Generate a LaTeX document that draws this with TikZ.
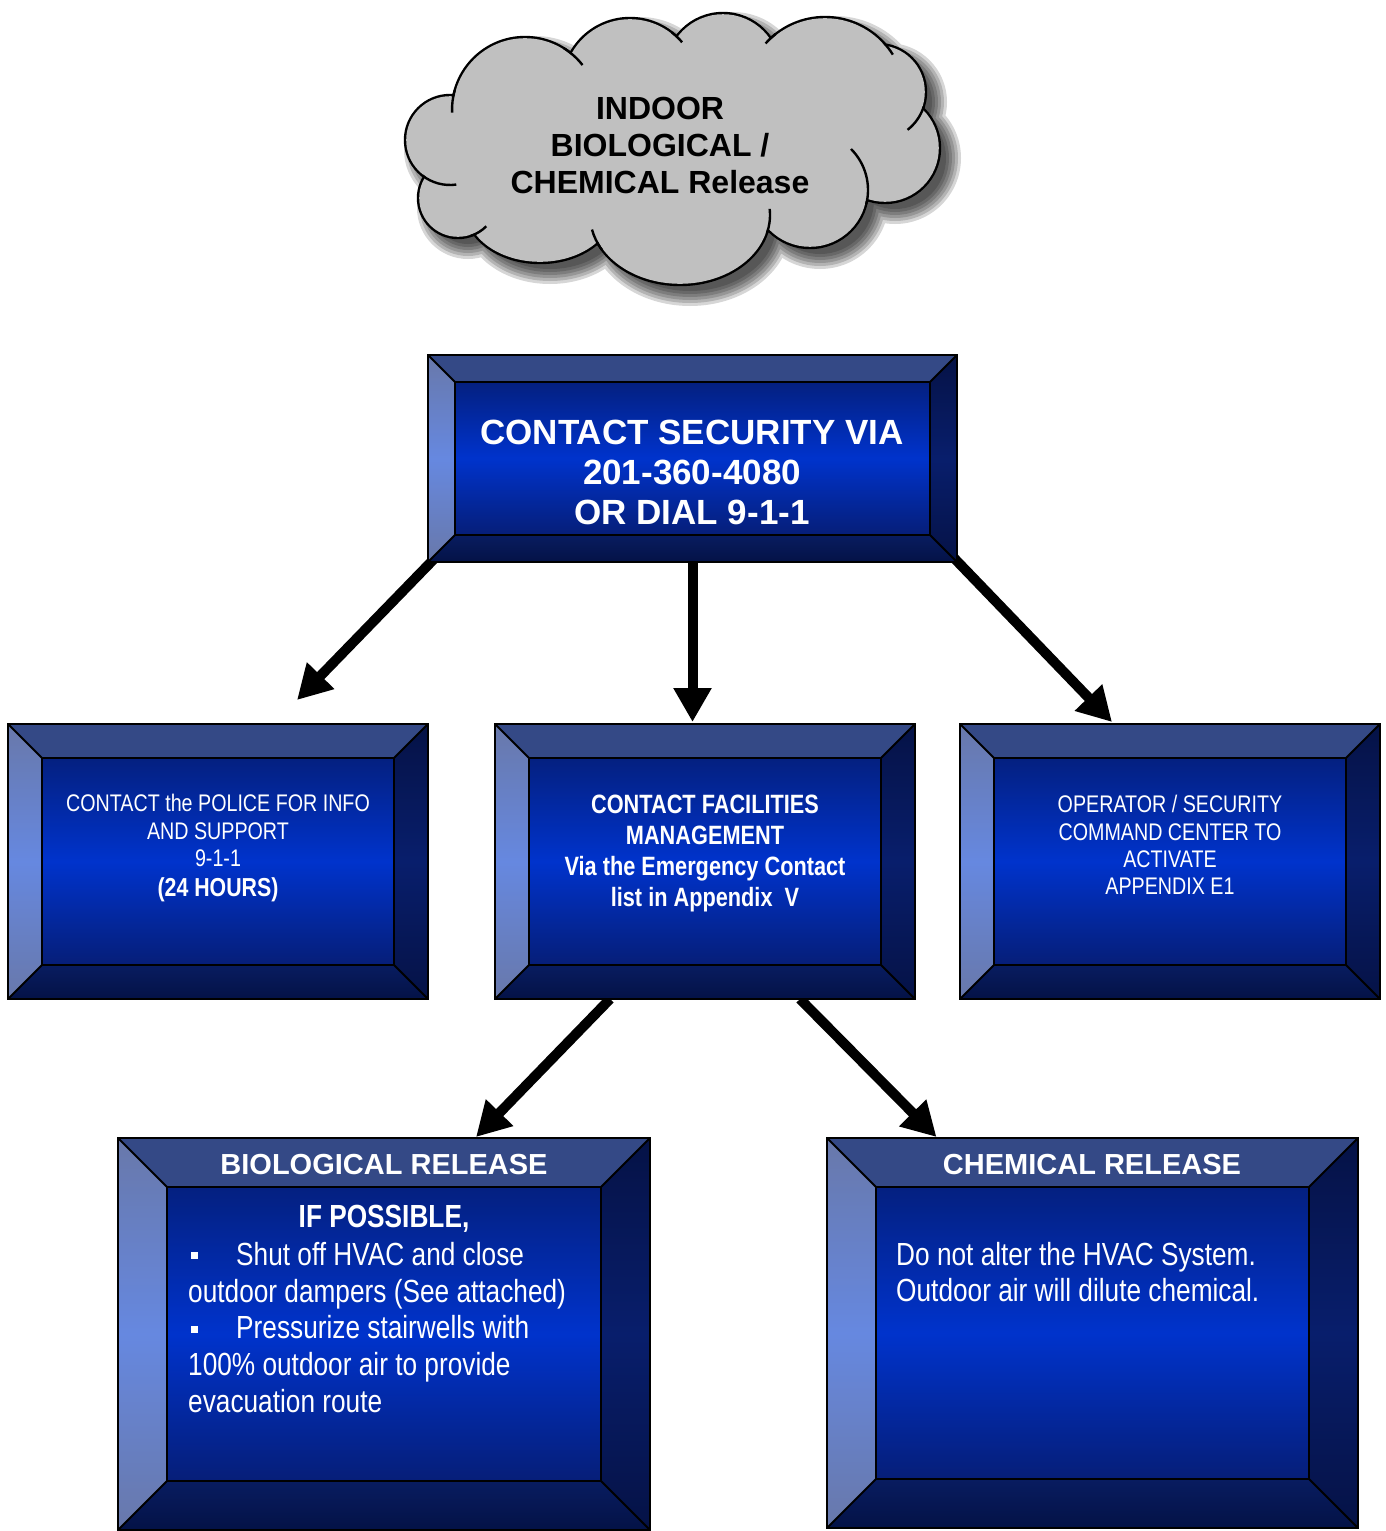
\documentclass[tikz,border=0pt]{standalone}
\usepackage{fontspec}
\setmainfont{Liberation Sans}
\newfontfamily\narrowfont[FakeStretch=0.82]{Liberation Sans}
\usetikzlibrary{arrows.meta,calc}

\definecolor{bevtop}{RGB}{52,73,134}
\definecolor{bevleftA}{RGB}{104,120,170}
\definecolor{bevleftB}{RGB}{102,136,224}
\definecolor{bevrightA}{RGB}{5,18,70}
\definecolor{bevrightB}{RGB}{8,30,108}
\definecolor{bevbotA}{RGB}{8,28,96}
\definecolor{bevbotB}{RGB}{4,18,70}
\definecolor{faceA}{RGB}{4,32,128}
\definecolor{faceB}{RGB}{0,51,204}
\definecolor{faceC}{RGB}{6,30,120}
\definecolor{cloudgray}{RGB}{192,192,192}

% puffs of the cloud: centre x / centre y / x radius / y radius
\newcommand\puffs{525/110/73/73, 630/86/68/68, 723/71/58/58, 825/97/80/80,
  878/92/48/48, 885/148/55/55, 810/190/58/58, 680/215/90/70,
  540/208/75/55, 458/198/40/40, 450/140/45/45}

\tikzset{
  boxframe/.style={rectangle, inner sep=0pt, outer sep=0pt},
  frameline/.style={black, line width=2pt, line join=miter},
  bigarrow/.style={line width=10pt, -{Triangle[length=34pt,width=36pt]}},
  cloudhook/.style={black, line width=2.4pt},
  boxtext/.style={text=white, align=center, inner sep=0pt},
}

% bevelled frame drawn on top of an empty rectangular node
\newcommand\bevelize[2]{%
  \coordinate (#1-o1) at (#1.north west);
  \coordinate (#1-o2) at (#1.north east);
  \coordinate (#1-o3) at (#1.south east);
  \coordinate (#1-o4) at (#1.south west);
  \coordinate (#1-i1) at ($(#1.north west)+(#2,#2)$);
  \coordinate (#1-i2) at ($(#1.north east)+(-#2,#2)$);
  \coordinate (#1-i3) at ($(#1.south east)+(-#2,-#2)$);
  \coordinate (#1-i4) at ($(#1.south west)+(#2,-#2)$);
  \fill[bevtop] (#1-o1) -- (#1-o2) -- (#1-i2) -- (#1-i1) -- cycle;
  \shade[top color=bevleftA, bottom color=bevleftA, middle color=bevleftB]
    (#1-o1) -- (#1-i1) -- (#1-i4) -- (#1-o4) -- cycle;
  \shade[top color=bevrightA, bottom color=bevrightA, middle color=bevrightB]
    (#1-o2) -- (#1-o3) -- (#1-i3) -- (#1-i2) -- cycle;
  \shade[top color=bevbotA, bottom color=bevbotB]
    (#1-o4) -- (#1-i4) -- (#1-i3) -- (#1-o3) -- cycle;
  \shade[top color=faceA, bottom color=faceC, middle color=faceB]
    (#1-i1) rectangle (#1-i3);
  \draw[frameline] (#1-o1) rectangle (#1-o3);
  \draw[frameline] (#1-i1) rectangle (#1-i3);
  \draw[frameline] (#1-o1) -- (#1-i1) (#1-o2) -- (#1-i2)
    (#1-o3) -- (#1-i3) (#1-o4) -- (#1-i4);
}

\begin{document}
\begin{tikzpicture}[x=1pt,y=-1pt]
\useasboundingbox (0,0) rectangle (1385,1531);
\fill[white] (0,0) rectangle (1385,1531);

% ---------- cloud ----------
% soft drop shadow
\foreach \g in {11,8,5,2,-1,-4} {
  \fill[black, opacity=0.16] foreach \cx/\cy/\rx/\ry in \puffs
    {(\cx+10,\cy+10) ellipse[x radius=\rx+\g, y radius=\ry+\g]}
    (685,155) ellipse[x radius=215, y radius=90];
}
% outline and body
\fill[black] foreach \cx/\cy/\rx/\ry in \puffs
  {(\cx,\cy) ellipse[x radius=\rx+1.2, y radius=\ry+1.2]};
\fill[cloudgray] foreach \cx/\cy/\rx/\ry in \puffs
  {(\cx,\cy) ellipse[x radius=\rx-1.2, y radius=\ry-1.2]}
  (675,145) ellipse[x radius=215, y radius=90];
% inner puff hooks
\draw[cloudhook] (525,110) ++(-58:73) arc[start angle=-58, end angle=-38, radius=73];
\draw[cloudhook] (525,110) ++(196:73) arc[start angle=196, end angle=178, radius=73];
\draw[cloudhook] (630,86) ++(-52:68) arc[start angle=-52, end angle=-40, radius=68];
\draw[cloudhook] (825,97) ++(-128:80) arc[start angle=-128, end angle=-138, radius=80];
\draw[cloudhook] (825,97) ++(-43:80) arc[start angle=-43, end angle=-32, radius=80];
\draw[cloudhook] (878,92) ++(18:48) arc[start angle=18, end angle=52, radius=48];
\draw[cloudhook] (810,190) ++(14:58) arc[start angle=14, end angle=-45, radius=58];
\draw[cloudhook] (680,215) ++(15:90 and 70) arc[start angle=15, end angle=-5, x radius=90, y radius=70];
\draw[cloudhook] (680,215) ++(150:90 and 70) arc[start angle=150, end angle=168, x radius=90, y radius=70];
\draw[cloudhook] (458,198) ++(72:40) arc[start angle=72, end angle=45, radius=40];
\draw[cloudhook] (450,140) ++(128:45) arc[start angle=128, end angle=82, radius=45];

\node[font=\bfseries\fontsize{32}{37}\selectfont, align=center, inner sep=0pt]
  (cloudtxt) at (660,145) {INDOOR\\BIOLOGICAL /\\CHEMICAL Release};

% ---------- box frames ----------
\node[boxframe, minimum width=529pt, minimum height=207pt] (secu) at (692.5,458.5) {};
\node[boxframe, minimum width=420pt, minimum height=275pt] (police) at (218,861.5) {};
\node[boxframe, minimum width=420pt, minimum height=275pt] (fac) at (705,861.5) {};
\node[boxframe, minimum width=420pt, minimum height=275pt] (oper) at (1170,861.5) {};
\node[boxframe, minimum width=532pt, minimum height=392pt] (bio) at (384,1334) {};
\node[boxframe, minimum width=531pt, minimum height=390pt] (chem) at (1092.5,1333) {};

% ---------- arrows ----------
\draw[bigarrow] ($(secu.south west)+(7,-4)$) -- ($(police.north)+(79,-24)$);
\draw[bigarrow] (secu.south) -- ($(secu.south |- fac.north)+(0,-2)$);
\draw[bigarrow] ($(secu.south east)+(-3,-4)$) -- ($(oper.north)+(-58,-2)$);
\draw[bigarrow] ($(fac.south)+(-95,0)$) -- ($(bio.north)+(92,-1)$);
\draw[bigarrow] ($(fac.south)+(95,0)$) -- ($(chem.north)+(-156,-1)$);

% ---------- bevelled boxes ----------
\bevelize{secu}{27}
\bevelize{police}{34}
\bevelize{fac}{34}
\bevelize{oper}{34}
\bevelize{bio}{49}
\bevelize{chem}{49}

% ---------- texts ----------
\node[boxtext, font=\bfseries\fontsize{35}{40}\selectfont] (secutxt) at (692,472)
  {CONTACT SECURITY VIA\\201-360-4080\\OR DIAL 9-1-1};
\node[boxtext, font=\narrowfont\fontsize{24}{27.5}\selectfont] (policetxt) at (218,848)
  {CONTACT the POLICE FOR INFO\\AND SUPPORT\\9-1-1\\[2.5pt]{\bfseries\fontsize{26}{27.5}\selectfont (24 HOURS)}};
\node[boxtext, font=\narrowfont\bfseries\fontsize{26.5}{30.7}\selectfont] (factxt) at (705,853.5)
  {CONTACT FACILITIES\\MANAGEMENT\\Via the Emergency Contact\\list in Appendix\ \ V};
\node[boxtext, font=\narrowfont\fontsize{24}{27.3}\selectfont] (opertxt) at (1170,845)
  {OPERATOR / SECURITY\\COMMAND CENTER TO\\ACTIVATE\\APPENDIX E1};

\node[boxtext, font=\bfseries\fontsize{29}{33}\selectfont] (biohead) at (384,1165) {BIOLOGICAL RELEASE};
\node[boxtext, font=\narrowfont\bfseries\fontsize{32}{36}\selectfont] (bioif) at (384,1219) {IF POSSIBLE,};
\node[anchor=north west, inner sep=0pt, align=left, text=white,
      font=\narrowfont\fontsize{32}{36.75}\selectfont] (biotxt) at (188,1242)
  {\hspace*{3pt}\rule[6pt]{7pt}{7pt}\hspace{38pt}Shut off HVAC and close\\
   outdoor dampers (See attached)\\
   \hspace*{3pt}\rule[6pt]{7pt}{7pt}\hspace{38pt}Pressurize stairwells with\\
   100\% outdoor air to provide\\
   evacuation route};

\node[boxtext, font=\bfseries\fontsize{29}{33}\selectfont] (chemhead) at (1092,1165) {CHEMICAL RELEASE};
\node[anchor=north west, inner sep=0pt, align=left, text=white,
      font=\narrowfont\fontsize{32}{36}\selectfont] (chemtxt) at (896,1242)
  {Do not alter the HVAC System.\\Outdoor air will dilute chemical.};
\end{tikzpicture}
\end{document}
